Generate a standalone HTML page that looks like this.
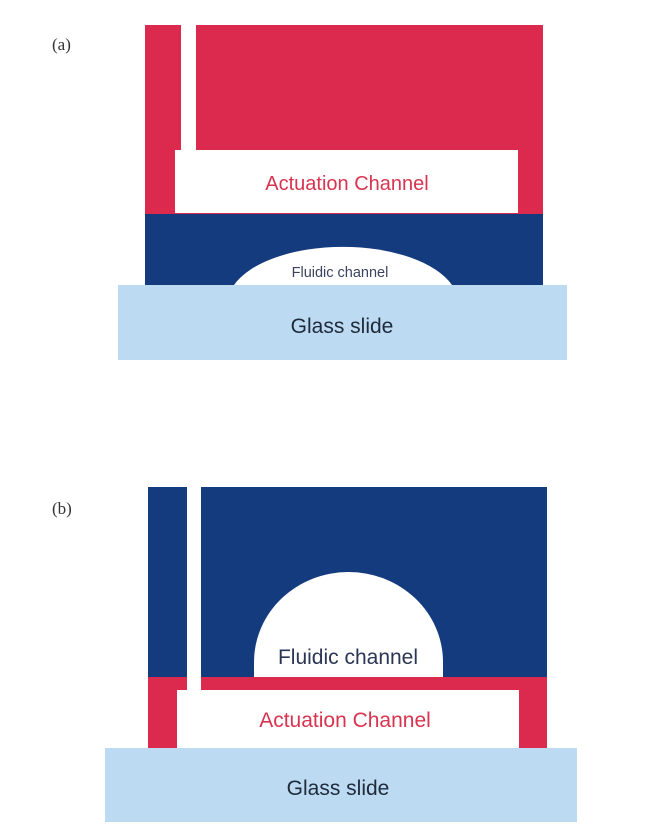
<!DOCTYPE html>
<html><head><meta charset="utf-8"><style>
html,body{margin:0;padding:0;background:#fff;}
svg{display:block;}
text{font-family:"Liberation Sans",sans-serif;}
</style></head><body>
<svg width="664" height="839" viewBox="0 0 664 839" xmlns="http://www.w3.org/2000/svg">
<rect width="664" height="839" fill="#fff"/>
<!-- (a) -->
<text x="52" y="50" font-size="17" fill="#333" style="font-family:'Liberation Serif',serif">(a)</text>
<rect x="145" y="25" width="398" height="190" fill="#dc2a4e"/>
<rect x="181" y="25" width="15" height="126" fill="#fff"/>
<rect x="175" y="150" width="343" height="63" fill="#fff"/>
<text x="347" y="190" font-size="20" fill="#d8334f" text-anchor="middle">Actuation Channel</text>
<rect x="145" y="214" width="398" height="71" fill="#143b7e"/>
<path d="M234 285 A115 56 0 0 1 452 285 Z" fill="#fff"/>
<text x="340" y="277" font-size="14.5" fill="#3a4460" text-anchor="middle">Fluidic channel</text>
<rect x="118" y="285" width="449" height="75" fill="#bcdaf2"/>
<text x="342" y="333" font-size="21" fill="#1e2a3a" text-anchor="middle">Glass slide</text>
<!-- (b) -->
<text x="52" y="514" font-size="17" fill="#333" style="font-family:'Liberation Serif',serif">(b)</text>
<rect x="148" y="487" width="399" height="191" fill="#143b7e"/>
<path d="M254 678 L254 662 A94.5 90 0 0 1 443 662 L443 678 Z" fill="#fff"/>
<text x="348" y="664" font-size="21" fill="#2a3654" text-anchor="middle">Fluidic channel</text>
<rect x="148" y="677" width="399" height="71" fill="#dc2a4e"/>
<rect x="177" y="690" width="342" height="58" fill="#fff"/>
<rect x="187" y="487" width="14" height="204" fill="#fff"/>
<text x="345" y="727" font-size="21" fill="#d8334f" text-anchor="middle">Actuation Channel</text>
<rect x="105" y="748" width="472" height="74" fill="#bcdaf2"/>
<text x="338" y="795" font-size="21" fill="#1e2a3a" text-anchor="middle">Glass slide</text>
</svg>
</body></html>
